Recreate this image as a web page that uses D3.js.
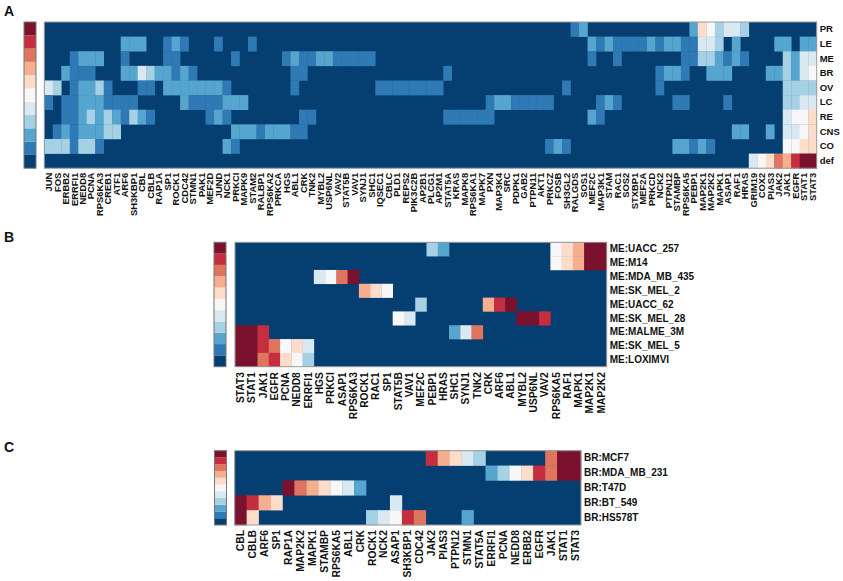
<!DOCTYPE html>
<html>
<head>
<meta charset="utf-8">
<script src="https://cdn.jsdelivr.net/npm/d3@7"></script>
<style>
  body { margin: 0; background: #fff; }
  text { font-family: "Liberation Sans", Arial, sans-serif; fill: #111; }
</style>
</head>
<body>
<svg id="chart" width="843" height="581"></svg>
<script>
// Discrete colour levels of the heatmaps, low to high
const levels = [0, 1, 2, 3, 4, 5, 6, 7, 8, 9, 10];
const levelColors = ['#053e70', '#2f79b5', '#55a5cf', '#a6d0e4', '#dae8f2', '#f7f7f7',
  '#fddcc9', '#f5ae8f', '#e0755f', '#c42e3e', '#7b112d'];

// Panel A: cancer types against genes
const genesA = ['JUN', 'FOS', 'ERBB2', 'ERRFI1', 'NEDD8', 'PCNA', 'RPS6KA3', 'CREB1', 'ATF1', 'ARF6',
  'SH3KBP1', 'CBL', 'CBLB', 'RAP1A', 'SP1', 'ROCK1', 'CDC42', 'STMN1', 'PAK1', 'MEF2D',
  'JUND', 'NCK1', 'PRKCI', 'MAPK9', 'STAM2', 'RALBP1', 'RPS6KA2', 'PRKCA', 'HGS', 'ABL1',
  'CRK', 'TNK2', 'MYBL2', 'USP6NL', 'VAV2', 'STAT5B', 'VAV1', 'SYNJ1', 'SHC1', 'IQSEC1',
  'CBLC', 'PLD1', 'REPS2', 'PIK3C2B', 'AP2B1', 'PLCG1', 'AP2M1', 'STAT5A', 'KRAS', 'MAPK8',
  'RPS6KA1', 'MAPK7', 'PXN', 'MAP3K4', 'SRC', 'PDPK1', 'GAB2', 'PTPN11', 'AKT1', 'PRKCZ',
  'FOSB', 'SH3GL2', 'RALGDS', 'SOS1', 'MEF2C', 'MAP3K1', 'STAM', 'RAC1', 'SOS2', 'STXBP1',
  'MEF2A', 'PRKCD', 'NCK2', 'PTPN12', 'STAMBP', 'RPS6KA5', 'PEBP1', 'MAP2K1', 'MAP2K2', 'MAPK1',
  'ASAP1', 'RAF1', 'HRAS', 'GRIM19', 'COX2', 'PIAS3', 'JAK2', 'JAK1', 'EGFR', 'STAT1', 'STAT3'];
const rowsA = ['PR', 'LE', 'ME', 'BR', 'OV', 'LC', 'RE', 'CNS', 'CO', 'def'];

// Non-zero cells only, as [gene index, level]; everything else is level 0
const cellsPR = [[62, 1], [63, 2], [76, 2], [77, 6], [78, 5], [79, 3], [80, 4], [81, 4], [82, 3]];
const cellsLE = [[9, 2], [10, 2], [11, 2], [14, 1], [15, 2], [16, 1], [20, 1], [24, 1],
  [64, 2], [65, 1], [66, 2], [67, 1], [68, 1], [69, 1], [70, 1], [71, 2], [72, 1], [73, 2], [74, 2],
  [75, 1], [76, 1], [77, 4], [78, 4], [79, 3], [81, 2], [86, 2], [87, 2], [89, 2], [90, 2]];
const cellsME = [[3, 1], [4, 2], [5, 2], [6, 2], [9, 1], [14, 1], [15, 1], [22, 1], [28, 1], [29, 2],
  [30, 1], [31, 1], [32, 2], [33, 2], [34, 1], [35, 1], [36, 1], [37, 1], [38, 1],
  [64, 1], [67, 1], [75, 1], [76, 1], [77, 3], [78, 3], [79, 2], [80, 1], [81, 2], [82, 1],
  [87, 3], [88, 2], [89, 4], [90, 4]];
const cellsBR = [[2, 2], [3, 1], [4, 1], [5, 1], [9, 2], [10, 2], [11, 4], [12, 3], [13, 2], [14, 2],
  [15, 1], [16, 2], [17, 1], [29, 1], [30, 1], [47, 1], [72, 1], [73, 2], [74, 2], [75, 1],
  [78, 2], [79, 2], [80, 2], [85, 2], [86, 2], [87, 3], [88, 2], [89, 4], [90, 5]];
const cellsOV = [[0, 4], [1, 3], [3, 1], [4, 2], [5, 2], [6, 3], [7, 1], [11, 1], [12, 1],
  [14, 2], [15, 2], [16, 2], [17, 2], [18, 2], [19, 2], [20, 2], [21, 1], [29, 1],
  [39, 1], [40, 1], [41, 1], [42, 1], [43, 1], [44, 1], [45, 1], [46, 1], [61, 1], [72, 1],
  [87, 3], [88, 3], [89, 3], [90, 3]];
const cellsLC = [[0, 1], [2, 1], [3, 1], [4, 2], [5, 2], [6, 2], [7, 1], [8, 1], [9, 1], [10, 1],
  [16, 2], [17, 1], [18, 1], [19, 1], [20, 1], [21, 2], [22, 2], [23, 2], [52, 1], [53, 2], [54, 2],
  [55, 1], [56, 1], [57, 1], [58, 1], [59, 1], [65, 1], [66, 2], [67, 1], [74, 1], [75, 1], [80, 1],
  [87, 3], [88, 3], [89, 4], [90, 4]];
const cellsRE = [[2, 1], [3, 1], [4, 2], [5, 3], [6, 2], [7, 3], [8, 2], [9, 1], [10, 3], [11, 2], [12, 1],
  [19, 1], [20, 2], [21, 1], [30, 1], [31, 1], [47, 1], [48, 1], [49, 1], [50, 1], [51, 1], [52, 1],
  [64, 2], [65, 1], [87, 4], [88, 5], [89, 5], [90, 6]];
const cellsCNS = [[1, 1], [2, 2], [3, 1], [4, 2], [5, 2], [6, 2], [7, 3], [8, 3], [22, 2], [23, 2], [24, 2],
  [25, 1], [26, 2], [27, 2], [28, 2], [29, 1], [30, 1], [81, 2], [82, 2], [85, 2],
  [87, 4], [88, 4], [89, 5], [90, 6]];
const cellsCO = [[0, 3], [1, 3], [2, 3], [3, 1], [4, 3], [5, 3], [6, 1], [21, 2], [22, 1],
  [59, 1], [60, 2], [61, 1], [74, 2], [75, 2], [76, 1], [77, 2], [78, 1],
  [87, 5], [88, 5], [89, 6], [90, 6]];
const cellsDef = [[83, 4], [84, 5], [85, 6], [86, 8], [87, 7], [88, 9], [89, 10], [90, 10]];
const cellsA = [cellsPR, cellsLE, cellsME, cellsBR, cellsOV, cellsLC, cellsRE, cellsCNS, cellsCO, cellsDef];

// Panel B: melanoma cell lines
const genesB = ['STAT3', 'STAT1', 'JAK1', 'EGFR', 'PCNA', 'NEDD8', 'ERRFI1', 'HGS', 'PRKCI', 'ASAP1',
  'RPS6KA3', 'ROCK1', 'RAC1', 'SP1', 'STAT5B', 'VAV1', 'MEF2C', 'PEBP1', 'HRAS', 'SHC1',
  'SYNJ1', 'TNK2', 'CRK', 'ARF6', 'ABL1', 'MYBL2', 'USP6NL', 'VAV2', 'RPS6KA5', 'RAF1',
  'MAPK1', 'MAP2K1', 'MAP2K2'];
const rowsB = ['ME:UACC_257', 'ME:M14', 'ME:MDA_MB_435', 'ME:SK_MEL_2', 'ME:UACC_62',
  'ME:SK_MEL_28', 'ME:MALME_3M', 'ME:SK_MEL_5', 'ME:LOXIMVI'];
const cellsB = [
  [[17, 3], [18, 2], [28, 5], [29, 6], [30, 7], [31, 10], [32, 10]],
  [[28, 5], [29, 6], [30, 7], [31, 10], [32, 10]],
  [[7, 4], [8, 5], [9, 8], [10, 10]],
  [[11, 7], [12, 6], [13, 5]],
  [[16, 3], [22, 7], [23, 9], [24, 10]],
  [[14, 5], [15, 4], [25, 10], [26, 10], [27, 9]],
  [[0, 10], [1, 10], [2, 9], [19, 2], [20, 4], [21, 8]],
  [[0, 10], [1, 10], [2, 9], [3, 8], [4, 5], [5, 6], [6, 4]],
  [[0, 10], [1, 10], [2, 8], [3, 9], [4, 6], [5, 5], [6, 3]]
];

// Panel C: breast cell lines
const genesC = ['CBL', 'CBLB', 'ARF6', 'SP1', 'RAP1A', 'MAP2K2', 'MAPK1', 'STAMBP', 'RPS6KA5', 'ABL1',
  'CRK', 'ROCK1', 'NCK2', 'ASAP1', 'SH3KBP1', 'CDC42', 'JAK2', 'PIAS3', 'PTPN12', 'STMN1',
  'STAT5A', 'ERRFI1', 'PCNA', 'NEDD8', 'ERBB2', 'EGFR', 'JAK1', 'STAT1', 'STAT3'];
const rowsC = ['BR:MCF7', 'BR:MDA_MB_231', 'BR:T47D', 'BR:BT_549', 'BR:HS578T'];
const cellsC = [
  [[16, 9], [17, 7], [18, 6], [19, 4], [20, 3], [26, 8], [27, 10], [28, 10]],
  [[21, 2], [22, 3], [23, 5], [24, 6], [25, 9], [26, 8], [27, 10], [28, 10]],
  [[4, 10], [5, 8], [6, 7], [7, 6], [8, 5], [9, 4], [10, 2]],
  [[0, 10], [1, 9], [2, 7], [3, 6], [13, 4]],
  [[0, 10], [1, 6], [11, 3], [12, 4], [13, 5], [14, 9], [15, 8], [19, 2]]
];

const color = d3.scaleOrdinal().domain(levels).range(levelColors);
const svg = d3.select('#chart');

function drawPanel(o) {
  const x = d3.scaleBand().domain(o.genes).range([o.left, o.right]);
  const y = d3.scaleBand().domain(o.rows).range([o.top, o.bottom]);
  const barY = d3.scaleBand().domain(levels.slice().reverse()).range([o.top, o.bottom]);

  const g = svg.append('g');

  g.append('text')
    .attr('x', 4).attr('y', o.letterY)
    .attr('font-size', 14).attr('font-weight', 'bold')
    .text(o.letter);

  // Colour key on the left
  g.append('g').selectAll('rect')
    .data(levels)
    .join('rect')
    .attr('x', o.barX)
    .attr('y', d => barY(d))
    .attr('width', o.barW)
    .attr('height', barY.bandwidth())
    .attr('fill', d => color(d));
  g.append('rect')
    .attr('x', o.barX).attr('y', o.top)
    .attr('width', o.barW).attr('height', o.bottom - o.top)
    .attr('fill', 'none').attr('stroke', '#777').attr('stroke-width', 1);

  // Base of the matrix is level 0, only the filled cells go on top
  g.append('rect')
    .attr('x', o.left).attr('y', o.top)
    .attr('width', o.right - o.left).attr('height', o.bottom - o.top)
    .attr('fill', color(0));

  const cells = o.cells.flatMap((row, r) =>
    row.map(([c, level]) => ({ gene: o.genes[c], row: o.rows[r], level })));
  g.append('g').selectAll('rect')
    .data(cells)
    .join('rect')
    .attr('x', d => x(d.gene))
    .attr('y', d => y(d.row))
    .attr('width', x.bandwidth() + 0.3)
    .attr('height', y.bandwidth() + 0.3)
    .attr('fill', d => color(d.level));

  g.append('rect')
    .attr('x', o.left).attr('y', o.top)
    .attr('width', o.right - o.left).attr('height', o.bottom - o.top)
    .attr('fill', 'none').attr('stroke', '#999').attr('stroke-width', 1);

  // Gene labels, rotated and hanging below the matrix
  const xAxis = g.append('g')
    .attr('transform', `translate(0,${o.bottom})`)
    .call(d3.axisBottom(x).tickSize(0).tickPadding(0));
  xAxis.select('.domain').remove();
  xAxis.selectAll('text')
    .attr('font-size', o.geneSize)
    .attr('font-family', '"Liberation Sans", Arial, sans-serif')
    .attr('font-weight', o.weight)
    .attr('text-anchor', 'end')
    .attr('dy', null)
    .attr('dominant-baseline', 'central')
    .attr('transform', `translate(0,${o.genePad}) rotate(-90)`)
    .attr('y', 0);

  const yAxis = g.append('g')
    .attr('transform', `translate(${o.right},0)`)
    .call(d3.axisRight(y).tickSize(0).tickPadding(3));
  yAxis.select('.domain').remove();
  yAxis.selectAll('text')
    .attr('font-size', o.rowSize)
    .attr('font-family', '"Liberation Sans", Arial, sans-serif')
    .attr('font-weight', 'bold');
}

drawPanel({
  letter: 'A', letterY: 16, genes: genesA, rows: rowsA, cells: cellsA,
  left: 44.3, right: 816.7, top: 22, bottom: 168.2,
  barX: 24, barW: 12, geneSize: 9.4, rowSize: 9.5, genePad: 4.5, weight: 'bold'
});
drawPanel({
  letter: 'B', letterY: 242, genes: genesB, rows: rowsB, cells: cellsB,
  left: 235, right: 606.7, top: 242.3, bottom: 366.7,
  barX: 214, barW: 12, geneSize: 10.2, rowSize: 10, genePad: 5.5, weight: 'bold'
});
drawPanel({
  letter: 'C', letterY: 452, genes: genesC, rows: rowsC, cells: cellsC,
  left: 234.7, right: 581, top: 450.7, bottom: 525,
  barX: 214.5, barW: 12, geneSize: 10.3, rowSize: 10, genePad: 5, weight: 'bold'
});
</script>
</body>
</html>
